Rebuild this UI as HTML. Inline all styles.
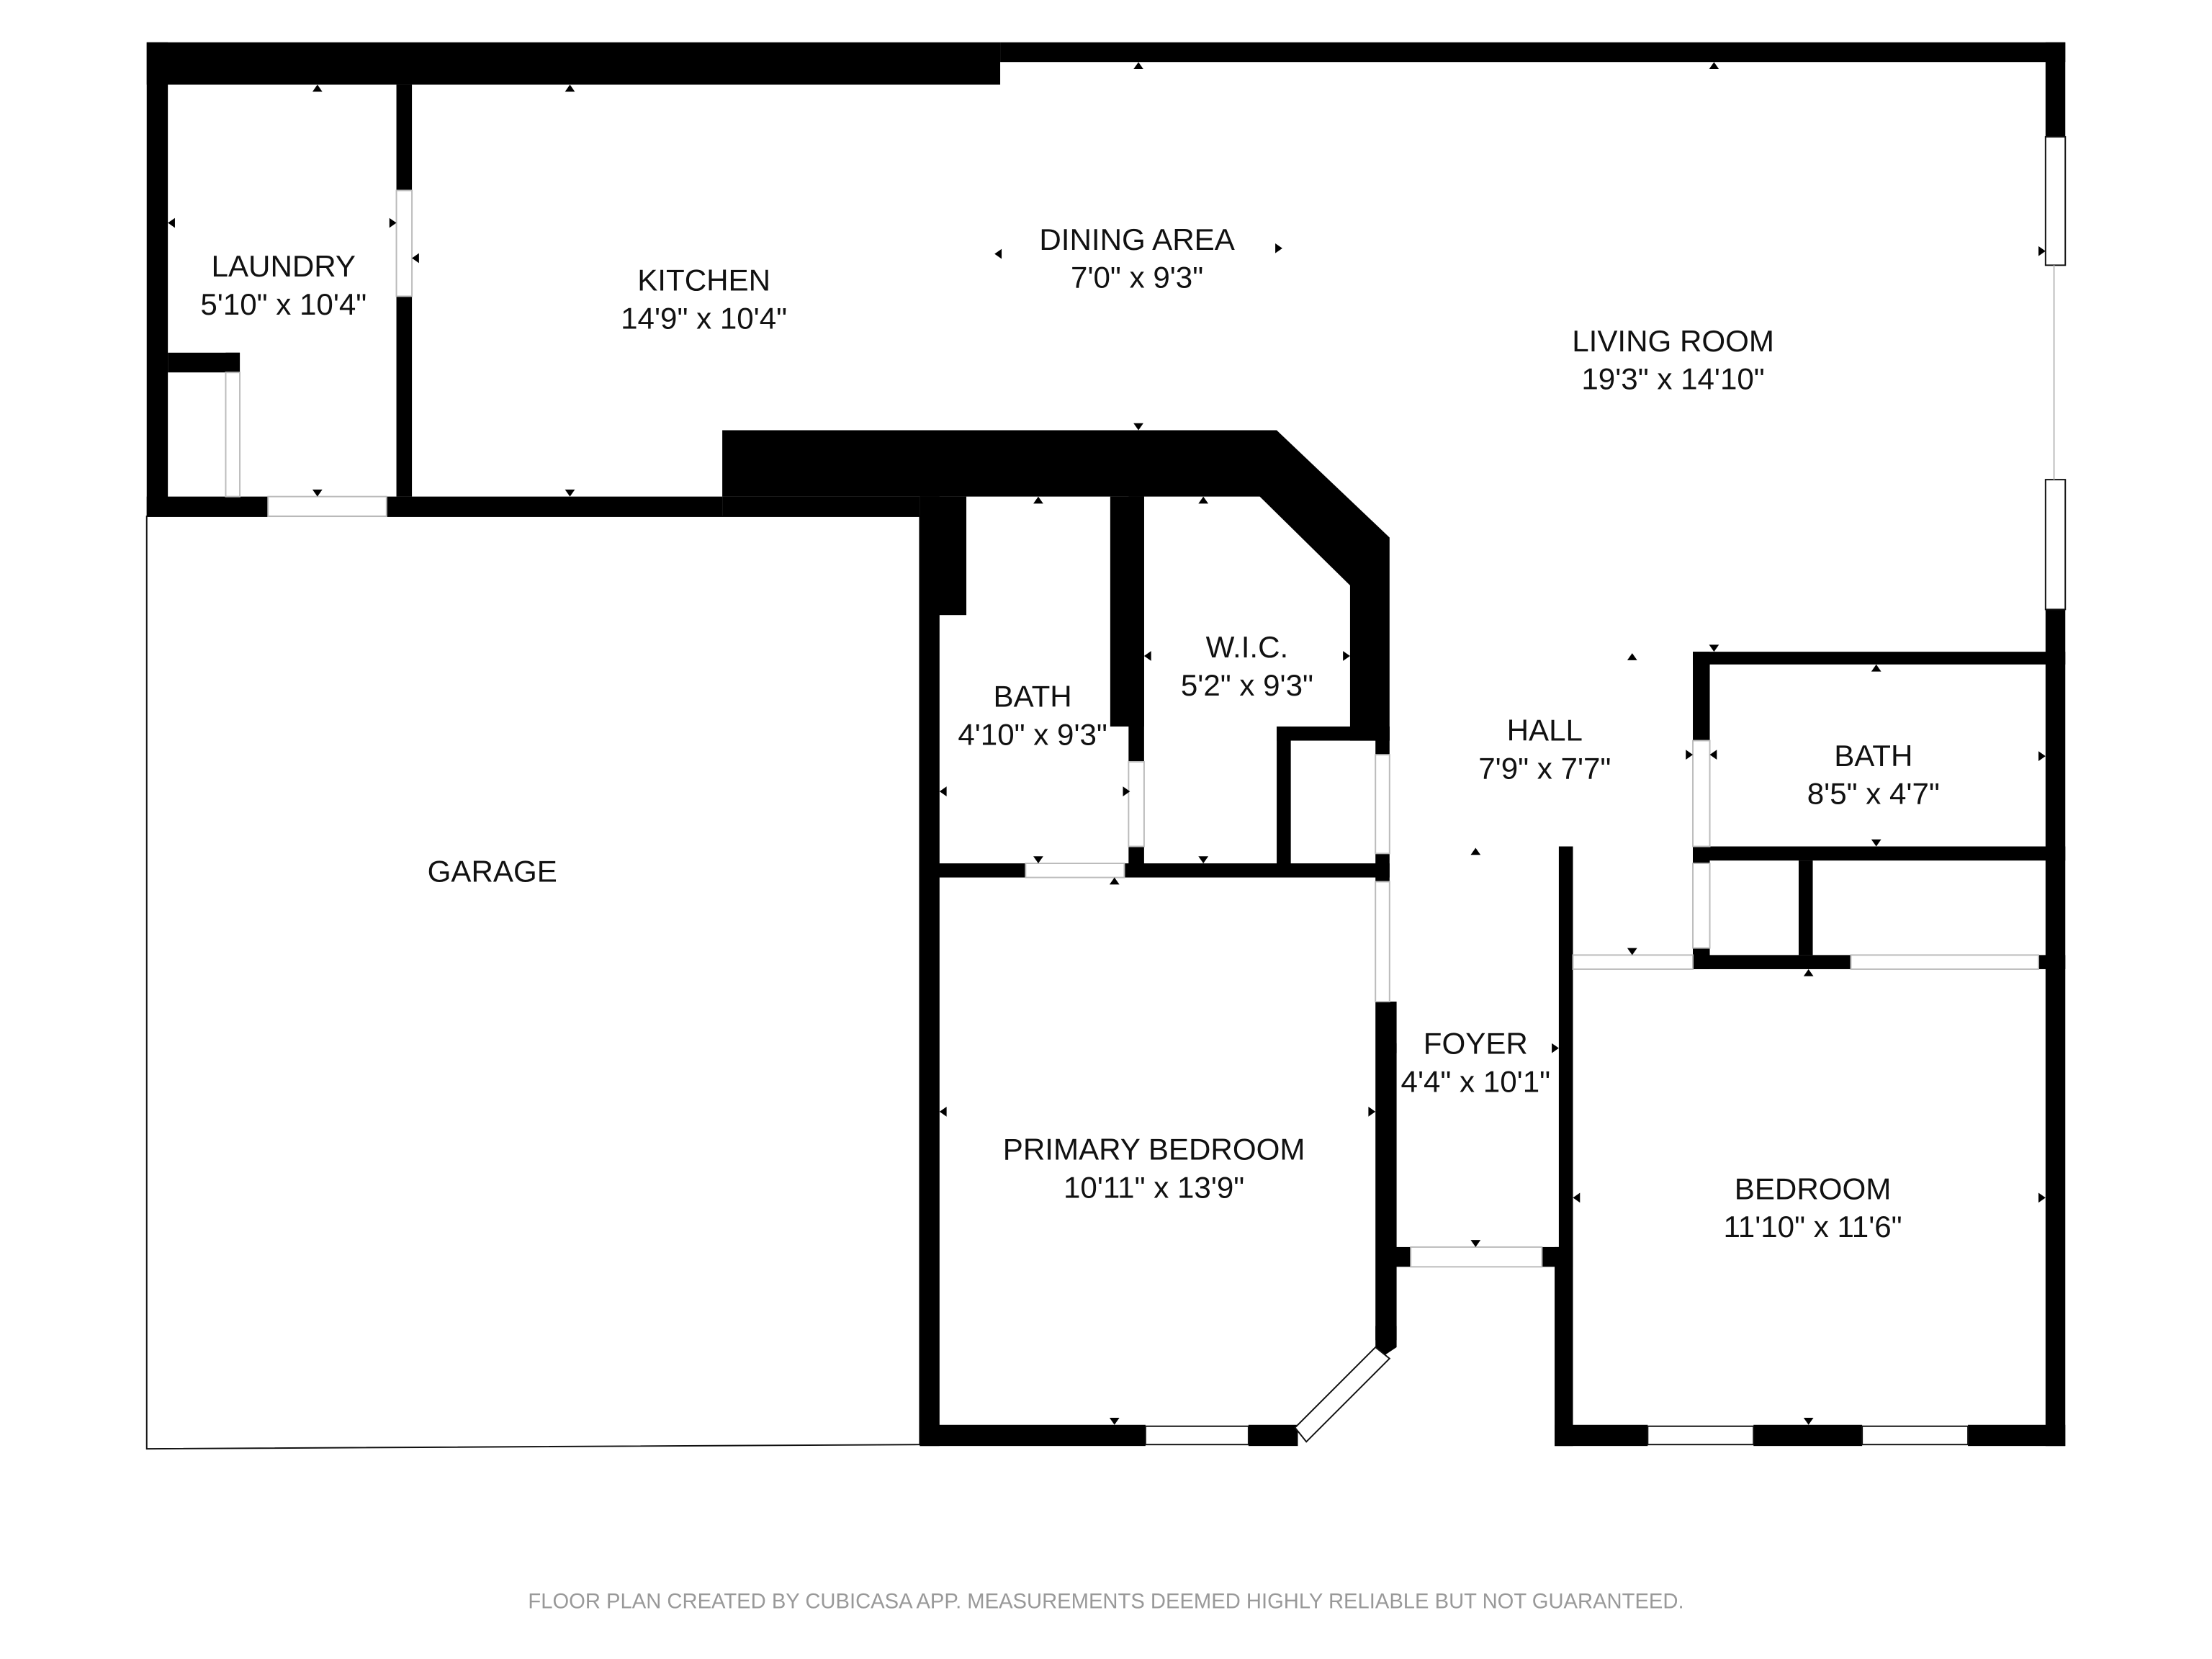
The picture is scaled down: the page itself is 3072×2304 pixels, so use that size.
<!DOCTYPE html>
<html><head><meta charset="utf-8"><style>
html,body{margin:0;padding:0;background:#fff;}
svg{display:block;}
text{font-family:"Liberation Sans",sans-serif;fill:#111;}
</style></head><body>
<svg width="3072" height="2304" viewBox="0 0 1568 1176" xmlns="http://www.w3.org/2000/svg">
<defs>
<path id="u" d="M-3.5,2 L3.5,2 L0,-3 Z"/>
<path id="d" d="M-3.5,-2 L3.5,-2 L0,3 Z"/>
<path id="l" d="M2,-3.5 L2,3.5 L-3,0 Z"/>
<path id="r" d="M-2,-3.5 L-2,3.5 L3,0 Z"/>
</defs>
<rect width="1568" height="1176" fill="#fff"/>
<polygon points="104,366 652,366 652,1024 104,1027" fill="#fff" stroke="#111" stroke-width="1"/>
<g fill="#000">
<rect x="104" y="30" width="605" height="30"/>
<rect x="709" y="30" width="755" height="14"/>
<rect x="1450" y="30" width="14" height="67"/>
<rect x="1450" y="432" width="14" height="593"/>
<rect x="104" y="30" width="15" height="336"/>
<rect x="281" y="60" width="11" height="75"/>
<rect x="281" y="210" width="11" height="142"/>
<rect x="104" y="352" width="86" height="14"/>
<rect x="274" y="352" width="238" height="14"/>
<rect x="512" y="352" width="140" height="14"/>
<rect x="119" y="250" width="51" height="14"/>
<rect x="160" y="250" width="10" height="14"/>
<polygon points="512,305 905,305 985,381 985,525 957,525 957,415 893,352 512,352"/>
<rect x="652" y="352" width="33" height="84"/>
<rect x="652" y="352" width="14" height="673"/>
<rect x="787" y="352" width="24" height="163"/>
<rect x="800" y="352" width="11" height="188"/>
<rect x="800" y="600" width="11" height="15"/>
<rect x="905" y="515" width="10" height="100"/>
<rect x="905" y="515" width="80" height="10"/>
<rect x="975" y="515" width="10" height="20"/>
<rect x="975" y="605" width="10" height="20"/>
<rect x="975" y="710" width="15" height="240"/>
<polygon points="975,940 990,940 990,955 975,965"/>
<rect x="652" y="612" width="75" height="10"/>
<rect x="797" y="612" width="188" height="10"/>
<rect x="652" y="1010" width="160" height="15"/>
<rect x="885" y="1010" width="35" height="15"/>
<rect x="985" y="884" width="15" height="14"/>
<rect x="1093" y="884" width="17" height="14"/>
<rect x="1105" y="600" width="10" height="298"/>
<rect x="1102" y="884" width="13" height="141"/>
<rect x="1102" y="1010" width="66" height="15"/>
<rect x="1243" y="1010" width="77" height="15"/>
<rect x="1395" y="1010" width="69" height="15"/>
<rect x="1200" y="677" width="112" height="10"/>
<rect x="1445" y="677" width="19" height="10"/>
<rect x="1200" y="462" width="264" height="9"/>
<rect x="1200" y="462" width="12" height="63"/>
<rect x="1200" y="600" width="12" height="12"/>
<rect x="1200" y="672" width="12" height="15"/>
<rect x="1200" y="600" width="264" height="10"/>
<rect x="1275" y="610" width="10" height="67"/>
</g>
<g fill="#fff" stroke="#111" stroke-width="1">
<rect x="1450" y="97" width="14" height="91"/>
<rect x="1450" y="340" width="14" height="92"/>
<rect x="812" y="1011" width="73" height="13"/>
<rect x="1168" y="1011" width="75" height="13"/>
<rect x="1320" y="1011" width="75" height="13"/>
<polygon points="975,955 985,963 926,1022 918,1012"/>
</g>
<g stroke="#bbb" stroke-width="1" fill="none">
<line x1="1456" y1="188" x2="1456" y2="340"/>
<rect x="190" y="352" width="84" height="14"/>
<rect x="160" y="264" width="10" height="88"/>
<rect x="281" y="135" width="11" height="75"/>
<rect x="727" y="612" width="70" height="10"/>
<rect x="800" y="540" width="11" height="60"/>
<rect x="975" y="535" width="10" height="70"/>
<rect x="975" y="625" width="10" height="85"/>
<rect x="1000" y="884" width="93" height="14"/>
<rect x="1115" y="677" width="85" height="10"/>
<rect x="1312" y="677" width="133" height="10"/>
<rect x="1200" y="525" width="12" height="75"/>
<rect x="1200" y="612" width="12" height="60"/>
</g>
<g fill="#000">
<use href="#u" x="225" y="63"/><use href="#u" x="404" y="63"/>
<use href="#u" x="807" y="47"/><use href="#u" x="1215" y="47"/>
<use href="#l" x="122" y="158"/><use href="#r" x="278" y="158"/>
<use href="#l" x="295" y="183"/>
<use href="#d" x="225" y="349"/><use href="#d" x="404" y="349"/>
<use href="#l" x="708" y="180"/><use href="#r" x="906" y="176"/>
<use href="#d" x="807" y="302"/>
<use href="#r" x="1447" y="178"/>
<use href="#d" x="1215" y="459"/><use href="#u" x="1157" y="466"/>
<use href="#u" x="736" y="355"/><use href="#u" x="853" y="355"/>
<use href="#l" x="814" y="465"/><use href="#r" x="954" y="465"/>
<use href="#l" x="669" y="561"/><use href="#r" x="798" y="561"/>
<use href="#d" x="736" y="609"/><use href="#d" x="853" y="609"/>
<use href="#u" x="790" y="625"/>
<use href="#r" x="1197" y="535"/><use href="#l" x="1215" y="535"/>
<use href="#u" x="1330" y="474"/><use href="#r" x="1447" y="536"/>
<use href="#d" x="1330" y="597"/>
<use href="#u" x="1046" y="604"/>
<use href="#d" x="1157" y="674"/>
<use href="#u" x="1282" y="690"/>
<use href="#l" x="669" y="788"/><use href="#r" x="972" y="788"/>
<use href="#d" x="790" y="1007"/>
<use href="#l" x="988" y="743"/><use href="#r" x="1102" y="743"/>
<use href="#d" x="1046" y="881"/>
<use href="#l" x="1118" y="849"/><use href="#r" x="1447" y="849"/>
<use href="#d" x="1282" y="1007"/>
</g>
<g font-size="21.5" text-anchor="middle">
<text x="201" y="196">LAUNDRY</text><text x="201" y="223">5'10" x 10'4"</text>
<text x="499" y="206">KITCHEN</text><text x="499" y="233">14'9" x 10'4"</text>
<text x="806" y="177">DINING AREA</text><text x="806" y="204">7'0" x 9'3"</text>
<text x="1186" y="249">LIVING ROOM</text><text x="1186" y="276">19'3" x 14'10"</text>
<text x="884" y="466">W.I.C.</text><text x="884" y="493">5'2" x 9'3"</text>
<text x="732" y="501">BATH</text><text x="732" y="528">4'10" x 9'3"</text>
<text x="1095" y="525">HALL</text><text x="1095" y="552">7'9" x 7'7"</text>
<text x="1328" y="543">BATH</text><text x="1328" y="570">8'5" x 4'7"</text>
<text x="349" y="625">GARAGE</text>
<text x="1046" y="747">FOYER</text><text x="1046" y="774">4'4" x 10'1"</text>
<text x="818" y="822">PRIMARY BEDROOM</text><text x="818" y="849">10'11" x 13'9"</text>
<text x="1285" y="850">BEDROOM</text><text x="1285" y="877">11'10" x 11'6"</text>
</g>
<text x="784" y="1140" font-size="14.9" text-anchor="middle" style="fill:#999">FLOOR PLAN CREATED BY CUBICASA APP. MEASUREMENTS DEEMED HIGHLY RELIABLE BUT NOT GUARANTEED.</text>
</svg>
</body></html>
